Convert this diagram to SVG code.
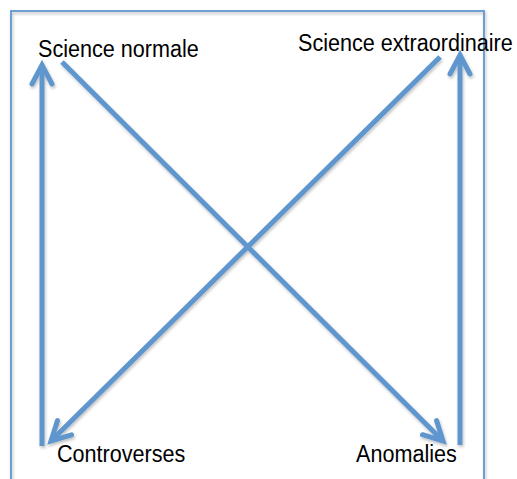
<svg xmlns="http://www.w3.org/2000/svg" width="517" height="479" viewBox="0 0 517 479">
<style>
.lbl{font-family:"Liberation Sans",Arial,sans-serif;font-size:21.6px;fill:#000}
.conn{stroke:#5f96cd;stroke-width:5;fill:none;marker-end:url(#ah)}
</style>
<defs>
<filter id="sh" x="-10%" y="-10%" width="120%" height="120%">
<feDropShadow dx="1" dy="2" stdDeviation="1.5" flood-color="#000" flood-opacity="0.25"/>
</filter>
<marker id="ah" markerUnits="userSpaceOnUse" viewBox="-24 -14 30 28" markerWidth="30" markerHeight="28" refX="0" refY="0" orient="auto">
<path d="M-19,-10 L0,0 L-19,10" fill="none" stroke="#5f96cd" stroke-width="5" stroke-linecap="round" stroke-linejoin="miter"/>
</marker>
</defs>
<rect x="11" y="11" width="473" height="480" fill="none" stroke="#6d9fd5" stroke-width="2" filter="url(#sh)"/>
<g id="connectors" filter="url(#sh)">
<line class="conn" x1="42" y1="446" x2="42" y2="65"/>
<line class="conn" x1="460" y1="445" x2="460" y2="55"/>
<line class="conn" x1="62" y1="62" x2="443" y2="441"/>
<line class="conn" x1="440" y1="57" x2="51" y2="441"/>
</g>
<g id="science-normale"><text class="lbl" transform="translate(38,57) scale(1,1.15)">Science normale</text></g>
<g id="science-extraordinaire"><text class="lbl" transform="translate(298,51) scale(1,1.15)">Science extraordinaire</text></g>
<g id="controverses"><text class="lbl" transform="translate(57,462) scale(1,1.15)">Controverses</text></g>
<g id="anomalies"><text class="lbl" transform="translate(356,462) scale(1,1.15)">Anomalies</text></g>
</svg>
